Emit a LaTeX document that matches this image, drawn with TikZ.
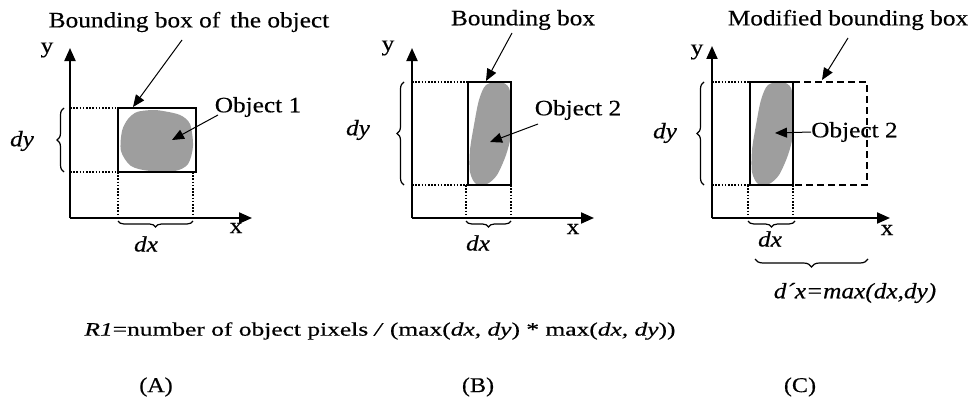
\documentclass[tikz,border=0pt]{standalone}
\usepackage{fontspec}
\setmainfont{Liberation Serif}[FakeStretch=1.15,FakeBold=0.4]
\newfontfamily\widefont{Liberation Serif}[FakeStretch=1.34,FakeBold=0.4]
\usetikzlibrary{arrows.meta,decorations.pathreplacing}
\definecolor{blobgray}{RGB}{158,158,158}
\begin{document}
\begin{tikzpicture}[x=1pt,y=-1pt,font=\fontsize{22}{25}\selectfont,
  axis/.style={line width=2pt,-{Triangle[length=13pt,width=11pt]}},
  bbox/.style={line width=1.8pt},
  dotline/.style={line width=1.6pt,dash pattern=on 1.6pt off 1.6pt},
  dashbox/.style={line width=1.8pt,dash pattern=on 7pt off 4pt},
  ptr/.style={line width=1pt,-{Triangle[length=12pt,width=10pt]}},
  brc/.style={decorate,decoration={brace,amplitude=#1},line width=1.2pt},
  brc/.default=6pt,
  lbl/.style={inner sep=0pt},
  blob/.style={fill=blobgray}]
\useasboundingbox (0,0) rectangle (968,404);

% ---------------- Panel A ----------------
\fill[blob] plot[smooth cycle] coordinates {(137,112) (152,110) (163,111) (180,115) (190,124) (193,146) (188,164) (175,171) (150,171) (131,166) (121,151) (122,131) (128,119)};
\draw[bbox] (118,108) rectangle (196,172);
\coordinate (oA) at (70,218);
\coordinate (yA) at (70,48);
\coordinate (xA) at (252,218);
\draw[axis] (oA) -- (yA);
\draw[axis] (oA) -- (xA);
\draw[dotline] (70,108) -- (118,108);
\draw[dotline] (70,172) -- (118,172);
\draw[dotline] (118,172) -- (118,218);
\draw[dotline] (193,172) -- (193,218);
\draw[brc=7pt] (64,172) -- (64,108);
\draw[brc] (193,221) -- (118,221);
\node[lbl] (ylA) at (47,50) {y};
\node[lbl] (xlA) at (236,228) {x};
\node[lbl] (dyA) at (22,141) {\itshape dy};
\node[lbl] (dxA) at (146,244) {\itshape dx};
\node[lbl] (bbA) at (189,22) {Bounding box of\, the object};
\node[lbl] (obA) at (258,107) {Object 1};
\coordinate (bbAs) at (182,40);
\coordinate (bbAt) at (133,107);
\draw[ptr] (bbAs) -- (bbAt);
\coordinate (obAs) at (218,115);
\coordinate (obAt) at (172,140);
\draw[ptr] (obAs) -- (obAt);

% ---------------- Panel B ----------------
\begin{scope}
\clip (468,82) rectangle (511,185);
\fill[blob] plot[smooth cycle] coordinates {(486,85) (500,82) (509,88) (512,110) (511,135) (506,155) (497,175) (487,184) (476,184) (470,172) (470,150) (474,125) (479,100)};
\end{scope}
\draw[bbox] (468,82) rectangle (511,185);
\coordinate (oB) at (412,218);
\coordinate (yB) at (412,48);
\coordinate (xB) at (594,218);
\draw[axis] (oB) -- (yB);
\draw[axis] (oB) -- (xB);
\draw[dotline] (412,82) -- (468,82);
\draw[dotline] (412,185) -- (468,185);
\draw[dotline] (466,185) -- (466,218);
\draw[dotline] (511,185) -- (511,218);
\draw[brc=7pt] (404,185) -- (404,82);
\draw[brc] (511,221) -- (466,221);
\node[lbl] (ylB) at (388,48) {y};
\node[lbl] (xlB) at (573,229) {x};
\node[lbl] (dyB) at (358,130) {\itshape dy};
\node[lbl] (dxB) at (478,243) {\itshape dx};
\node[lbl] (bbB) at (523,20) {Bounding box};
\node[lbl] (obB) at (578,110) {Object 2};
\coordinate (bbBs) at (512,33);
\coordinate (bbBt) at (486,81);
\draw[ptr] (bbBs) -- (bbBt);
\coordinate (obBs) at (538,124);
\coordinate (obBt) at (490,142);
\draw[ptr] (obBs) -- (obBt);

% ---------------- Panel C ----------------
\begin{scope}
\clip (750,82) rectangle (793,185);
\fill[blob] plot[smooth cycle] coordinates {(768,85) (782,82) (791,88) (794,110) (793,135) (788,155) (779,175) (769,184) (758,184) (752,172) (752,150) (756,125) (761,100)};
\end{scope}
\draw[dashbox] (793,82) -- (867,82) -- (867,185) -- (793,185);
\draw[bbox] (750,82) rectangle (793,185);
\coordinate (oC) at (712,218);
\coordinate (yC) at (712,46);
\coordinate (xC) at (890,218);
\draw[axis] (oC) -- (yC);
\draw[axis] (oC) -- (xC);
\draw[dotline] (712,82) -- (750,82);
\draw[dotline] (712,185) -- (750,185);
\draw[dotline] (748,185) -- (748,218);
\draw[dotline] (793,185) -- (793,218);
\draw[brc=7pt] (704,185) -- (704,82);
\draw[brc] (795,221) -- (748,221);
\draw[brc=8pt] (868,259) -- (755,259);
\node[lbl] (ylC) at (697,52) {y};
\node[lbl] (xlC) at (887,230) {x};
\node[lbl] (dyC) at (665,133) {\itshape dy};
\node[lbl] (dxC) at (770,239) {\itshape dx};
\node[lbl] (dpx) at (855,293) {\itshape d´x=max(dx,dy)};
\node[lbl] (bbC) at (848,20) {Modified bounding box};
\node[lbl,anchor=west] (obC) at (811,132) {Object 2};
\coordinate (bbCs) at (848,38);
\coordinate (bbCt) at (822,80);
\draw[ptr] (bbCs) -- (bbCt);
\coordinate (obCt) at (775,133);
\draw[ptr] (obC.west) -- (obCt);

% ---------------- Bottom texts ----------------
\node[lbl,font=\widefont\fontsize{19}{22}\selectfont] (rone) at (380,331) {\textit{R1}=number of object pixels \textit{/} (max(\textit{dx, dy}) * max(\textit{dx, dy}))};
\node[lbl,font=\fontsize{21}{24}\selectfont] (capA) at (156,387) {(A)};
\node[lbl,font=\fontsize{21}{24}\selectfont] (capB) at (478,387) {(B)};
\node[lbl,font=\fontsize{21}{24}\selectfont] (capC) at (800,387) {(C)};
\end{tikzpicture}
\end{document}
